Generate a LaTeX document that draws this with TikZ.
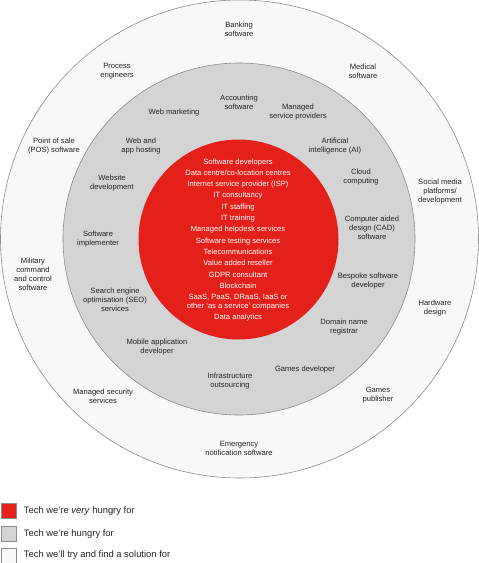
\documentclass[tikz,border=0pt]{standalone}
\usepackage{fontspec}
\setmainfont{Liberation Sans}
\usetikzlibrary{positioning}

\definecolor{hungryred}{HTML}{E3211A}
\definecolor{hungrygray}{HTML}{D4D4D4}
\definecolor{trywhite}{HTML}{F8F8F8}
\definecolor{ringline}{HTML}{8C8C8C}
\definecolor{labeltext}{HTML}{222222}

\begin{document}
\begin{tikzpicture}[
    x=1pt, y=-1pt,
    ring/.style={circle, draw=ringline, line width=0.6pt, inner sep=0pt},
    tech/.style={align=center, text=labeltext, font=\fontsize{7.6}{9}\selectfont, inner sep=0pt},
    redtech/.style={align=center, text=white, font=\fontsize{7.6}{11.3}\selectfont, inner sep=0pt},
    swatch/.style={rectangle, draw=ringline, line width=0.5pt, minimum size=15pt, inner sep=0pt},
    key/.style={text=labeltext, font=\fontsize{9.4}{11}\selectfont, inner sep=0pt}
]
    \useasboundingbox (0,0) rectangle (479,563);

    % rings
    \node[ring, fill=trywhite, minimum size=478pt] (outer) at (239.5,239) {};
    \node[ring, fill=hungrygray, minimum size=352pt] (middle) at (239,239) {};
    \node[circle, fill=hungryred, inner sep=0pt, minimum size=200pt] (core) at (238.5,239.5) {};

    % very hungry
    \node[redtech] (corelist) at (238,240) {Software developers\\ Data centre/co-location centres\\ Internet service provider (ISP)\\ IT consultancy\\ IT staffing\\ IT training\\ Managed helpdesk services\\ Software testing services\\ Telecommunications\\ Value added reseller\\ GDPR consultant\\ Blockchain\\ SaaS, PaaS, DRaaS, IaaS or\\[-2.3pt] other `as a service' companies\\ Data analytics};

    % hungry
    \node[tech] (accounting) at (239,102) {Accounting\\ software};
    \node[tech] (webmarketing) at (174,113) {Web marketing};
    \node[tech] (msp) at (298,112) {Managed\\ service providers};
    \node[tech] (hosting) at (141,146.5) {Web and\\ app hosting};
    \node[tech] (ai) at (335,146.5) {Artificial\\ intelligence (AI)};
    \node[tech] (website) at (112,183.5) {Website\\ development};
    \node[tech] (cloud) at (361,177.5) {Cloud\\ computing};
    \node[tech] (implementer) at (98,239) {Software\\ implementer};
    \node[tech] (cad) at (372,228) {Computer aided\\ design (CAD)\\ software};
    \node[tech] (seo) at (115,300) {Search engine\\ optimisation (SEO)\\ services};
    \node[tech] (bespoke) at (368,281) {Bespoke software\\ developer};
    \node[tech] (domain) at (344,327.5) {Domain name\\ registrar};
    \node[tech] (mobile) at (157,347.5) {Mobile application\\ developer};
    \node[tech] (infra) at (230,381.5) {Infrastructure\\ outsourcing};
    \node[tech] (gamesdev) at (305,370) {Games developer};

    % try and find a solution
    \node[tech] (banking) at (239,29) {Banking\\ software};
    \node[tech] (process) at (117,71.5) {Process\\ engineers};
    \node[tech] (medical) at (363,71.5) {Medical\\ software};
    \node[tech] (pos) at (54,146.5) {Point of sale\\ (POS) software};
    \node[tech] (social) at (440,191.5) {Social media\\ platforms/\\ development};
    \node[tech] (military) at (33,274) {Military\\ command\\ and control\\ software};
    \node[tech] (hardware) at (435,308.5) {Hardware\\ design};
    \node[tech] (security) at (103,396) {Managed security\\ services};
    \node[tech] (publisher) at (378,395.5) {Games\\ publisher};
    \node[tech] (emergency) at (239,448.5) {Emergency\\ notification software};

    % legend
    \node[swatch, fill=hungryred] (redkey) at (8.5,511) {};
    \node[swatch, fill=hungrygray] (graykey) at (8.5,534) {};
    \node[swatch, fill=trywhite] (whitekey) at (8.5,555.5) {};
    \node[key, right=7.5pt of redkey] (redtext) {Tech we're \textit{very} hungry for};
    \node[key, right=7.5pt of graykey] (graytext) {Tech we're hungry for};
    \node[key, right=7.5pt of whitekey] (whitetext) {Tech we'll try and find a solution for};
\end{tikzpicture}
\end{document}
